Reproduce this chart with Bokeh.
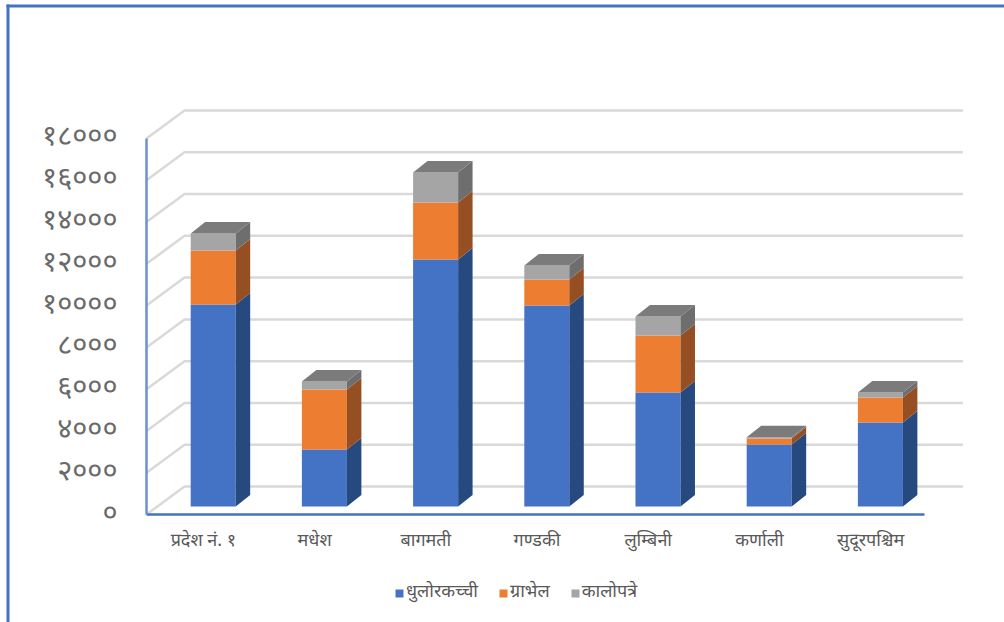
from bokeh.embed import file_html
from bokeh.resources import INLINE
from bokeh.plotting import figure
from bokeh.models import BoxAnnotation, Legend, LegendItem, FixedTicker

categories = ["प्रदेश नं. १", "मधेश", "बागमती", "गण्डकी", "लुम्बिनी", "कर्णाली", "सुदूरपश्चिम"]
dhulo = [9670, 2730, 11820, 9620, 5460, 2970, 4020]
gravel = [2585, 2870, 2730, 1245, 2730, 290, 1200]
kalopatre = [814, 380, 1436, 670, 910, 50, 240]
series_names = ["धुलोरकच्ची", "ग्राभेल", "कालोपत्रे"]
tick_values = [0, 2000, 4000, 6000, 8000, 10000, 12000, 14000, 16000, 18000]
tick_labels = ["०", "२०००", "४०००", "६०००", "८०००", "१००००", "१२०००", "१४०००", "१६०००", "१८०००"]

front = ["#4472c4", "#ed7d31", "#a5a5a5"]
side = ["#264a80", "#964f22", "#6e6e6e"]
top_col = "#7b7b7b"
BLUE = "#4472c4"
FONT = "Noto Sans Devanagari, Noto Serif Devanagari, Lohit Devanagari, FreeSerif, Noto Sans"

n = len(categories)
WALL_DX, WALL_DY = 0.342, 1340
BAR_DX, BAR_DY = 0.13, 550
OFF_X, OFF_Y = 0.1, 383
BAR_W = 0.405
LABEL_SHIFT = 0.012

p = figure(width=1004, height=622, output_backend="svg", toolbar_location=None,
           x_range=(-1.3129, 7.716), y_range=(-5170, 24606),
           min_border_left=0, min_border_right=0, min_border_top=0, min_border_bottom=0,
           outline_line_color=None, background_fill_color="white")
p.grid.visible = False

xs, ys = [], []
for v in tick_values:
    xs.append([0, WALL_DX, n + WALL_DX])
    ys.append([v, v + WALL_DY, v + WALL_DY])
p.multi_line(xs, ys, line_color="#d9d9d9", line_width=2.5)

renderers = []
for i in range(n):
    cx = i + 0.5 + OFF_X
    l, r = cx - BAR_W / 2, cx + BAR_W / 2
    base = OFF_Y
    for k, vals in enumerate([dhulo, gravel, kalopatre]):
        t = base + vals[i]
        q = p.quad(left=[l], right=[r], bottom=[base], top=[t], fill_color=front[k], line_color=None)
        if i == 0:
            renderers.append(q)
        p.patch([r, r + BAR_DX, r + BAR_DX, r], [base, base + BAR_DY, t + BAR_DY, t],
                fill_color=side[k], line_color=None)
        base = t
    p.patch([l, r, r + BAR_DX, l + BAR_DX], [base, base, base + BAR_DY, base + BAR_DY],
            fill_color=top_col, line_color=None)

xa = p.xaxis[0]
xa.fixed_location = 0
xa.ticker = FixedTicker(ticks=[i + 0.5 + LABEL_SHIFT for i in range(n)])
xa.major_label_overrides = {i + 0.5 + LABEL_SHIFT: c for i, c in enumerate(categories)}
xa.bounds = (0, n)
xa.axis_line_color = BLUE
xa.axis_line_width = 2.5
xa.major_tick_line_color = None
xa.minor_tick_line_color = None
xa.major_label_text_font = FONT
xa.major_label_text_font_size = "18px"
xa.major_label_text_color = "#595959"
xa.major_label_standoff = 9

ya = p.yaxis[0]
ya.fixed_location = 0
ya.ticker = FixedTicker(ticks=tick_values)
ya.major_label_overrides = dict(zip(tick_values, tick_labels))
ya.bounds = (0, 18000)
ya.axis_line_color = "#6f8fd0"
ya.axis_line_width = 2.5
ya.major_tick_line_color = None
ya.minor_tick_line_color = None
ya.major_label_text_font = FONT
ya.major_label_text_font_size = "29px"
ya.major_label_text_color = "#6a6a6a"
ya.major_label_standoff = 23

legend = Legend(items=[LegendItem(label=s, renderers=[r]) for s, r in zip(series_names, renderers)],
                orientation="horizontal", location=(394, 18), border_line_color=None,
                background_fill_alpha=0, label_text_font=FONT, label_text_font_size="18px",
                label_text_color="#595959", glyph_width=10, glyph_height=10, spacing=20,
                label_standoff=2, padding=0, margin=0)
p.add_layout(legend, "center")

for kw in [dict(left=6, right=9, top=4, bottom=622), dict(left=6, right=1004, top=4, bottom=7)]:
    p.add_layout(BoxAnnotation(left_units="canvas", right_units="canvas", top_units="canvas",
                               bottom_units="canvas", fill_color=BLUE, fill_alpha=1,
                               line_color=None, **kw))

open("out.html", "w").write(file_html(p, INLINE))
